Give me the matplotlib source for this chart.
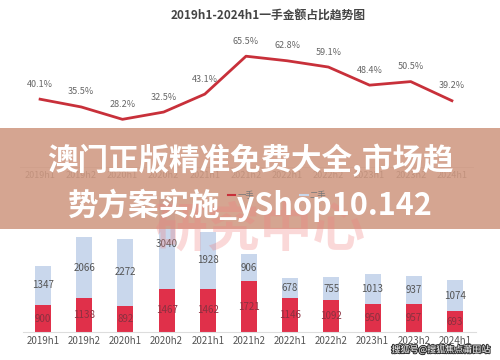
import matplotlib.pyplot as plt
from matplotlib.patches import Rectangle
import matplotlib.patheffects as pe

plt.rcParams['font.family'] = ['Noto Sans CJK SC', 'DejaVu Sans']

periods = ['2019h1', '2019h2', '2020h1', '2020h2', '2021h1', '2021h2',
           '2022h1', '2022h2', '2023h1', '2023h2', '2024h1']
share = [40.1, 35.5, 28.2, 32.5, 43.1, 65.5, 62.8, 59.1, 48.4, 50.5, 39.2]
first_hand = [900, 1138, 892, 1467, 1462, 1721, 1146, 1092, 950, 957, 693]
second_hand = [1347, 2066, 2272, 3040, 1928, 906, 678, 755, 1013, 937, 1074]

fig = plt.figure(figsize=(5, 3.6), dpi=100)
fig.patch.set_facecolor('white')
x = list(range(len(periods)))

# top: share line
ax1 = fig.add_axes([0.039, 0.536, 0.906, 0.376])
ax1.plot(x, share, color='#c8303a', lw=2)
for i, v in enumerate(share):
    ax1.annotate(f'{v}%', (i, v), xytext=(0, 9), textcoords='offset points',
                 ha='center', fontsize=6.5, color='#666666')
ax1.set_xlim(-0.5, 10.5)
ax1.set_ylim(0, 80)
ax1.set_xticks(x)
ax1.set_xticklabels(periods, fontsize=6.5, color='#777777')
ax1.tick_params(length=0, pad=3)
ax1.set_yticks([])
for s in ['top', 'right', 'left']:
    ax1.spines[s].set_visible(False)
ax1.spines['bottom'].set_color('#dddddd')

fig.text(0.536, 0.958, '2019h1-2024h1一手金额占比趋势图', ha='center', va='center',
         fontsize=8.5, fontweight='bold', color='#444444')

# legend (mostly hidden under the band)
fig.lines.append(plt.Line2D([0.455, 0.47], [0.458, 0.458], color='#c8303a', lw=1.5,
                            transform=fig.transFigure))
fig.text(0.475, 0.458, '一手', fontsize=6, color='#777777', va='center')
fig.lines.append(plt.Line2D([0.6, 0.615], [0.458, 0.458], color='#c8d6ea', lw=1.5,
                            transform=fig.transFigure))
fig.text(0.62, 0.458, '二手', fontsize=6, color='#777777', va='center')

# bottom: stacked bars
ax2 = fig.add_axes([0.045, 0.078, 0.906, 0.41])
ax2.bar(x, first_hand, width=0.39, color='#e0304a')
ax2.bar(x, second_hand, width=0.39, bottom=first_hand, color='#c9d7ec')
for i in x:
    ax2.text(i, first_hand[i] / 2, str(first_hand[i]), ha='center', va='center',
             fontsize=7, color='#8a3040')
    ax2.text(i, first_hand[i] + second_hand[i] / 2, str(second_hand[i]),
             ha='center', va='center', fontsize=7, color='#555555')
ax2.set_xlim(-0.5, 10.5)
ax2.set_ylim(0, 5000)
ax2.set_xticks(x)
ax2.set_xticklabels(periods, fontsize=7, color='#555555')
ax2.tick_params(length=0, pad=3)
ax2.set_yticks([])
for s in ['top', 'right', 'left']:
    ax2.spines[s].set_visible(False)
ax2.spines['bottom'].set_color('#dddddd')

# faint watermark behind
fig.text(0.52, 0.36, '研究中心', ha='center', va='center', fontsize=38,
         fontweight='bold', color='#f08080', alpha=0.3)

# overlay band with headline
fig.patches.append(Rectangle((0, 0.364), 1, 0.281, transform=fig.transFigure,
                             facecolor='#ce967e', alpha=0.85, edgecolor='none'))
fig.text(0.5, 0.555, '澳门正版精准免费大全,市场趋', ha='center', va='center',
         fontsize=22, fontweight='bold', color='white')
fig.text(0.5, 0.43, '势方案实施_yShop10.142', ha='center', va='center',
         fontsize=22, fontweight='bold', color='white')

fig.text(0.98, 0.028, '搜狐号@搜狐焦点莆田站', ha='right', va='center', fontsize=6.5,
         color='white', path_effects=[pe.withStroke(linewidth=1.5, foreground='#333333')])

fig.savefig('out.png', dpi=100)
